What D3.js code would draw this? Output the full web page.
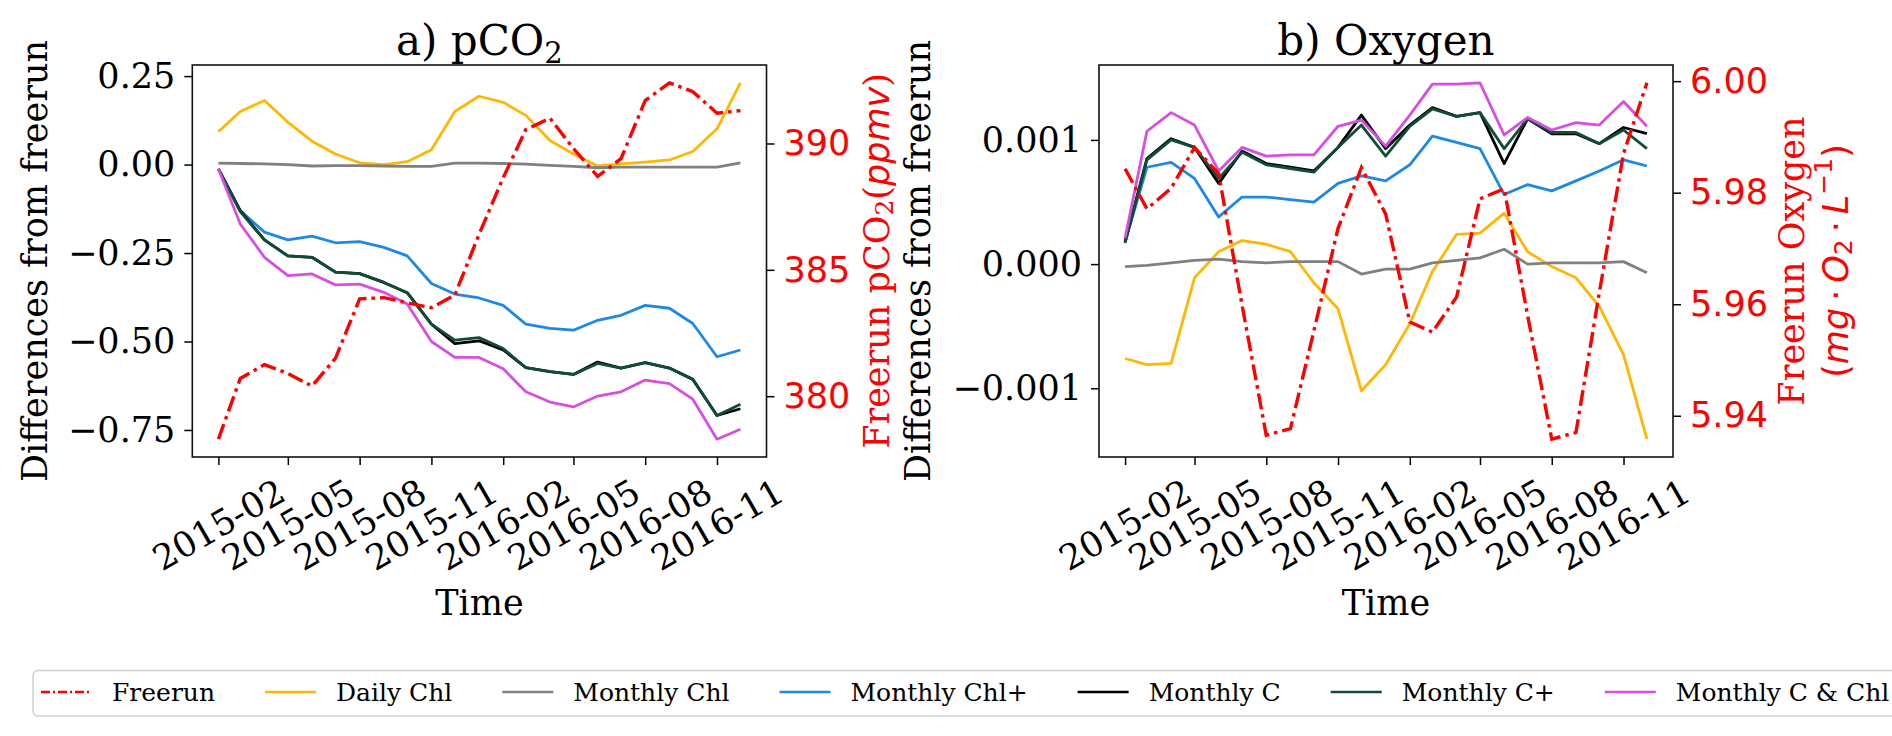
<!DOCTYPE html>
<html>
<head>
<meta charset="utf-8">
<script src="https://cdn.jsdelivr.net/npm/d3@7"></script>
<style>
body{margin:0;background:#fff;}
text{font-family:"DejaVu Serif",serif;}
</style>
</head>
<body>
<svg id="chart" width="1892" height="736"></svg>
<script>
// monthly means, 2015-02 .. 2016-12
var months = ["2015-02-01","2015-03-01","2015-04-01","2015-05-01","2015-06-01","2015-07-01","2015-08-01","2015-09-01","2015-10-01","2015-11-01","2015-12-01","2016-01-01",
	"2016-02-01","2016-03-01","2016-04-01","2016-05-01","2016-06-01","2016-07-01","2016-08-01","2016-09-01","2016-10-01","2016-11-01","2016-12-01"];
var tickLabels = ["2015-02","2015-05","2015-08","2015-11","2016-02","2016-05","2016-08","2016-11"];

// a) pCO2 : differences from freerun
var pco2DailyChl   = [0.093,0.150,0.181,0.120,0.066,0.030,0.005,0.000,0.008,0.042,0.150,0.193,0.176,0.139,0.068,0.030,-0.004,0.002,0.007,0.013,0.037,0.101,0.231];
var pco2MonthlyChl = [0.004,0.003,0.002,0.000,-0.004,-0.003,-0.003,-0.004,-0.005,-0.005,0.004,0.004,0.003,0.001,-0.002,-0.005,-0.009,-0.007,-0.007,-0.007,-0.007,-0.007,0.005];
var pco2ChlPlus    = [-0.012,-0.130,-0.191,-0.213,-0.202,-0.221,-0.218,-0.234,-0.258,-0.336,-0.366,-0.377,-0.398,-0.451,-0.463,-0.468,-0.440,-0.426,-0.398,-0.406,-0.449,-0.543,-0.524];
var pco2MonthlyC   = [-0.012,-0.130,-0.213,-0.258,-0.262,-0.304,-0.308,-0.333,-0.362,-0.451,-0.506,-0.498,-0.524,-0.574,-0.585,-0.593,-0.558,-0.575,-0.560,-0.575,-0.607,-0.709,-0.690];
var pco2CPlus      = [-0.012,-0.133,-0.213,-0.258,-0.262,-0.304,-0.308,-0.333,-0.362,-0.451,-0.496,-0.489,-0.520,-0.574,-0.585,-0.593,-0.562,-0.575,-0.560,-0.575,-0.607,-0.709,-0.677];
var pco2CChl       = [-0.012,-0.168,-0.262,-0.314,-0.309,-0.340,-0.338,-0.361,-0.394,-0.500,-0.545,-0.545,-0.577,-0.642,-0.671,-0.685,-0.654,-0.642,-0.609,-0.619,-0.663,-0.776,-0.748];
var pco2Freerun    = [378.3,380.7,381.25,380.9,380.4,381.5,383.85,383.9,383.7,383.5,384.0,386.4,388.65,390.55,391.0,389.8,388.7,389.4,391.7,392.4,392.05,391.2,391.3];

// b) Oxygen : differences from freerun
var oxyDailyChl   = [-0.00076,-0.00081,-0.00080,-0.00011,0.00010,0.00019,0.00016,0.00010,-0.00015,-0.00036,-0.00102,-0.00081,-0.00048,-0.00006,0.00024,0.00025,0.00041,0.00010,-0.00002,-0.00011,-0.00034,-0.00073,-0.00141];
var oxyMonthlyChl = [-0.00002,-0.00001,0.00001,0.00003,0.00004,0.00002,0.00001,0.00002,0.00002,0.00002,-0.00008,-0.00004,-0.00004,0.00001,0.00003,0.00005,0.00012,0.00000,0.00001,0.00001,0.00001,0.00002,-0.00007];
var oxyChlPlus    = [0.00018,0.00078,0.00082,0.00069,0.00038,0.00054,0.00054,0.00052,0.00050,0.00065,0.00071,0.00067,0.00080,0.00103,0.00098,0.00093,0.00056,0.00064,0.00059,0.00067,0.00075,0.00084,0.00079];
var oxyMonthlyC   = [0.00018,0.00085,0.00101,0.00094,0.00065,0.00091,0.00081,0.00078,0.00075,0.00094,0.00120,0.00093,0.00112,0.00126,0.00119,0.00122,0.00081,0.00117,0.00105,0.00105,0.00097,0.00110,0.00105];
var oxyCPlus      = [0.00017,0.00084,0.00100,0.00094,0.00069,0.00090,0.00080,0.00077,0.00074,0.00094,0.00112,0.00087,0.00111,0.00125,0.00119,0.00122,0.00093,0.00117,0.00106,0.00106,0.00097,0.00108,0.00093];
var oxyCChl       = [0.00021,0.00107,0.00122,0.00112,0.00075,0.00094,0.00087,0.00088,0.00088,0.00111,0.00116,0.00095,0.00120,0.00145,0.00145,0.00146,0.00104,0.00118,0.00108,0.00114,0.00112,0.00131,0.00111];
var oxyFreerun    = [5.9843,5.9771,5.9808,5.9881,5.9834,5.9598,5.9365,5.9377,5.9552,5.9736,5.9845,5.9762,5.9568,5.9550,5.9613,5.9789,5.9807,5.9580,5.9358,5.9370,5.9621,5.9870,5.9997];

var seriesNames = ["Freerun","Daily Chl","Monthly Chl","Monthly Chl+","Monthly C","Monthly C+","Monthly C & Chl"];
var seriesColors = ["#ff0000","#ffb703","#808080","#1e88e5","#000000","#0f4d36","#d54fe0"];

var svg = d3.select('#chart'),
	parseDay = d3.timeParse('%Y-%m-%d'),
	parseMonth = d3.timeParse('%Y-%m'),
	dates = months.map(parseDay),
	tickDates = tickLabels.map(parseMonth),
	plotTop = 65, plotBottom = 457;

// matplotlib style 5% margins
function pad(ext){
	var d = (ext[1]-ext[0])*0.05;
	return [ext[0]-d, ext[1]+d];
}

function styleAxis(g, fontFamily, color){
	g.select('.domain').remove();
	g.selectAll('.tick line').attr('stroke','#000').attr('stroke-width',1.5);
	g.selectAll('.tick text')
		.attr('fill',color)
		.style('font-family',fontFamily)
		.style('font-size','35px');
}

function drawPanel(p){
	var g = svg.append('g'),
		x = d3.scaleTime().domain(pad(d3.extent(dates).map(Number))).range([p.left,p.right]),
		y = d3.scaleLinear().domain(pad(d3.extent(d3.merge(p.diffs)))).range([plotBottom,plotTop]),
		y2 = d3.scaleLinear().domain(pad(d3.extent(p.freerun))).range([plotBottom,plotTop]);

	// x axis with rotated, centred labels
	var xa = g.append('g').attr('transform','translate(0,'+plotBottom+')')
		.call(d3.axisBottom(x).tickValues(tickDates).tickFormat(function(d,i){return tickLabels[i];}).tickSize(8));
	styleAxis(xa,'"DejaVu Serif",serif','#000');
	xa.selectAll('.tick text')
		.attr('y',0).attr('dy',0)
		.attr('transform','translate(0,68) rotate(-30)')
		.attr('dominant-baseline','central')
		.attr('text-anchor','middle');

	var ya = g.append('g').attr('transform','translate('+p.left+',0)')
		.call(d3.axisLeft(y).tickValues(p.leftTicks).tickFormat(d3.format(p.leftFmt)).tickSize(8).tickPadding(9));
	styleAxis(ya,'"DejaVu Serif",serif','#000');

	var ya2 = g.append('g').attr('transform','translate('+p.right+',0)')
		.call(d3.axisRight(y2).tickValues(p.rightTicks).tickFormat(d3.format(p.rightFmt)).tickSize(8).tickPadding(9));
	styleAxis(ya2,'"DejaVu Sans",sans-serif','#ff0000');

	var line = d3.line().x(function(d,i){return x(dates[i]);});

	p.diffs.forEach(function(s,k){
		g.append('path')
			.attr('d',line.y(function(d){return y(d);})(s))
			.attr('fill','none')
			.attr('stroke',seriesColors[k+1])
			.attr('stroke-width',2.8)
			.attr('stroke-linejoin','round');
	});
	g.append('path')
		.attr('d',line.y(function(d){return y2(d);})(p.freerun))
		.attr('fill','none')
		.attr('stroke',seriesColors[0])
		.attr('stroke-width',3.4)
		.attr('stroke-dasharray','16,5,3.5,5');

	g.append('rect')
		.attr('x',p.left).attr('y',plotTop)
		.attr('width',p.right-p.left).attr('height',plotBottom-plotTop)
		.attr('fill','none').attr('stroke','#111').attr('stroke-width',1.6);

	var cx = (p.left+p.right)/2, cy = (plotTop+plotBottom)/2;
	var title = g.append('text').attr('x',cx).attr('y',55).attr('text-anchor','middle').style('font-size','42px');
	title.append('tspan').text(p.title);
	if(p.titleSub){
		title.append('tspan').attr('dy',8).style('font-size','29px').text(p.titleSub);
	}

	g.append('text').attr('x',cx).attr('y',615).attr('text-anchor','middle').style('font-size','35px').text('Time');

	g.append('text')
		.attr('transform','translate('+p.yLabelX+','+cy+') rotate(-90)')
		.attr('text-anchor','middle').attr('dominant-baseline','central')
		.style('font-size','35px')
		.text('Differences from freerun');

	p.rightLabel(g, cy);
}

drawPanel({
	left:192.3, right:766.5,
	diffs:[pco2DailyChl,pco2MonthlyChl,pco2ChlPlus,pco2MonthlyC,pco2CPlus,pco2CChl],
	freerun:pco2Freerun,
	leftTicks:[-0.75,-0.5,-0.25,0,0.25], leftFmt:'.2f',
	rightTicks:[380,385,390], rightFmt:'d',
	title:'a) pCO', titleSub:'2',
	yLabelX:35,
	rightLabel:function(g,cy){
		var t = g.append('text')
			.attr('transform','translate(877,'+cy+') rotate(-90)')
			.attr('text-anchor','middle').attr('dominant-baseline','central')
			.attr('fill','#ff0000').style('font-size','35px');
		t.append('tspan').text('Freerun pCO');
		t.append('tspan').attr('dy',7).style('font-size','25px').text('2');
		t.append('tspan').attr('dy',-7).text('(');
		t.append('tspan').style('font-family','"DejaVu Sans",sans-serif').style('font-style','italic').text('ppmv');
		t.append('tspan').text(')');
	}
});

drawPanel({
	left:1099, right:1673,
	diffs:[oxyDailyChl,oxyMonthlyChl,oxyChlPlus,oxyMonthlyC,oxyCPlus,oxyCChl],
	freerun:oxyFreerun,
	leftTicks:[-0.001,0,0.001], leftFmt:'.3f',
	rightTicks:[5.94,5.96,5.98,6.00], rightFmt:'.2f',
	title:'b) Oxygen',
	yLabelX:918,
	rightLabel:function(g,cy){
		g.append('text')
			.attr('transform','translate(1792,'+cy+') rotate(-90)')
			.attr('text-anchor','middle').attr('dominant-baseline','central')
			.attr('fill','#ff0000').style('font-size','35px')
			.text('Freerun Oxygen');
		var t = g.append('text')
			.attr('transform','translate(1836,'+cy+') rotate(-90)')
			.attr('text-anchor','middle').attr('dominant-baseline','central')
			.attr('fill','#ff0000').style('font-size','35px')
			.style('font-family','"DejaVu Sans",sans-serif');
		t.append('tspan').text('(');
		t.append('tspan').style('font-style','italic').text('mg');
		t.append('tspan').text('\u2009\u00b7\u2009');
		t.append('tspan').style('font-style','italic').text('O');
		t.append('tspan').attr('dy',7).style('font-size','25px').text('2');
		t.append('tspan').attr('dy',-7).text('\u2009\u00b7\u2009');
		t.append('tspan').style('font-style','italic').text('L');
		t.append('tspan').attr('dy',-13).style('font-size','25px').text('\u22121');
		t.append('tspan').attr('dy',13).text(')');
	}
});

// legend below both panels
var legend = svg.append('g'),
	lx = 41, ly = 692;
var frame = legend.append('rect');
seriesNames.forEach(function(name,i){
	legend.append('line')
		.attr('x1',lx).attr('x2',lx+51).attr('y1',ly).attr('y2',ly)
		.attr('stroke',seriesColors[i])
		.attr('stroke-width',2.4)
		.attr('stroke-dasharray', i==0 ? '9,3,2,3' : null);
	var t = legend.append('text')
		.attr('x',lx+71).attr('y',ly+8.5)
		.style('font-size','25px')
		.text(name);
	lx = lx + 71 + t.node().getComputedTextLength() + 50;
});
frame.attr('x',33).attr('y',670.5)
	.attr('width',lx-50+9-33).attr('height',45.5)
	.attr('rx',5)
	.attr('fill','#fff').attr('stroke','#d0d0d0').attr('stroke-width',1.5);
</script>
</body>
</html>
